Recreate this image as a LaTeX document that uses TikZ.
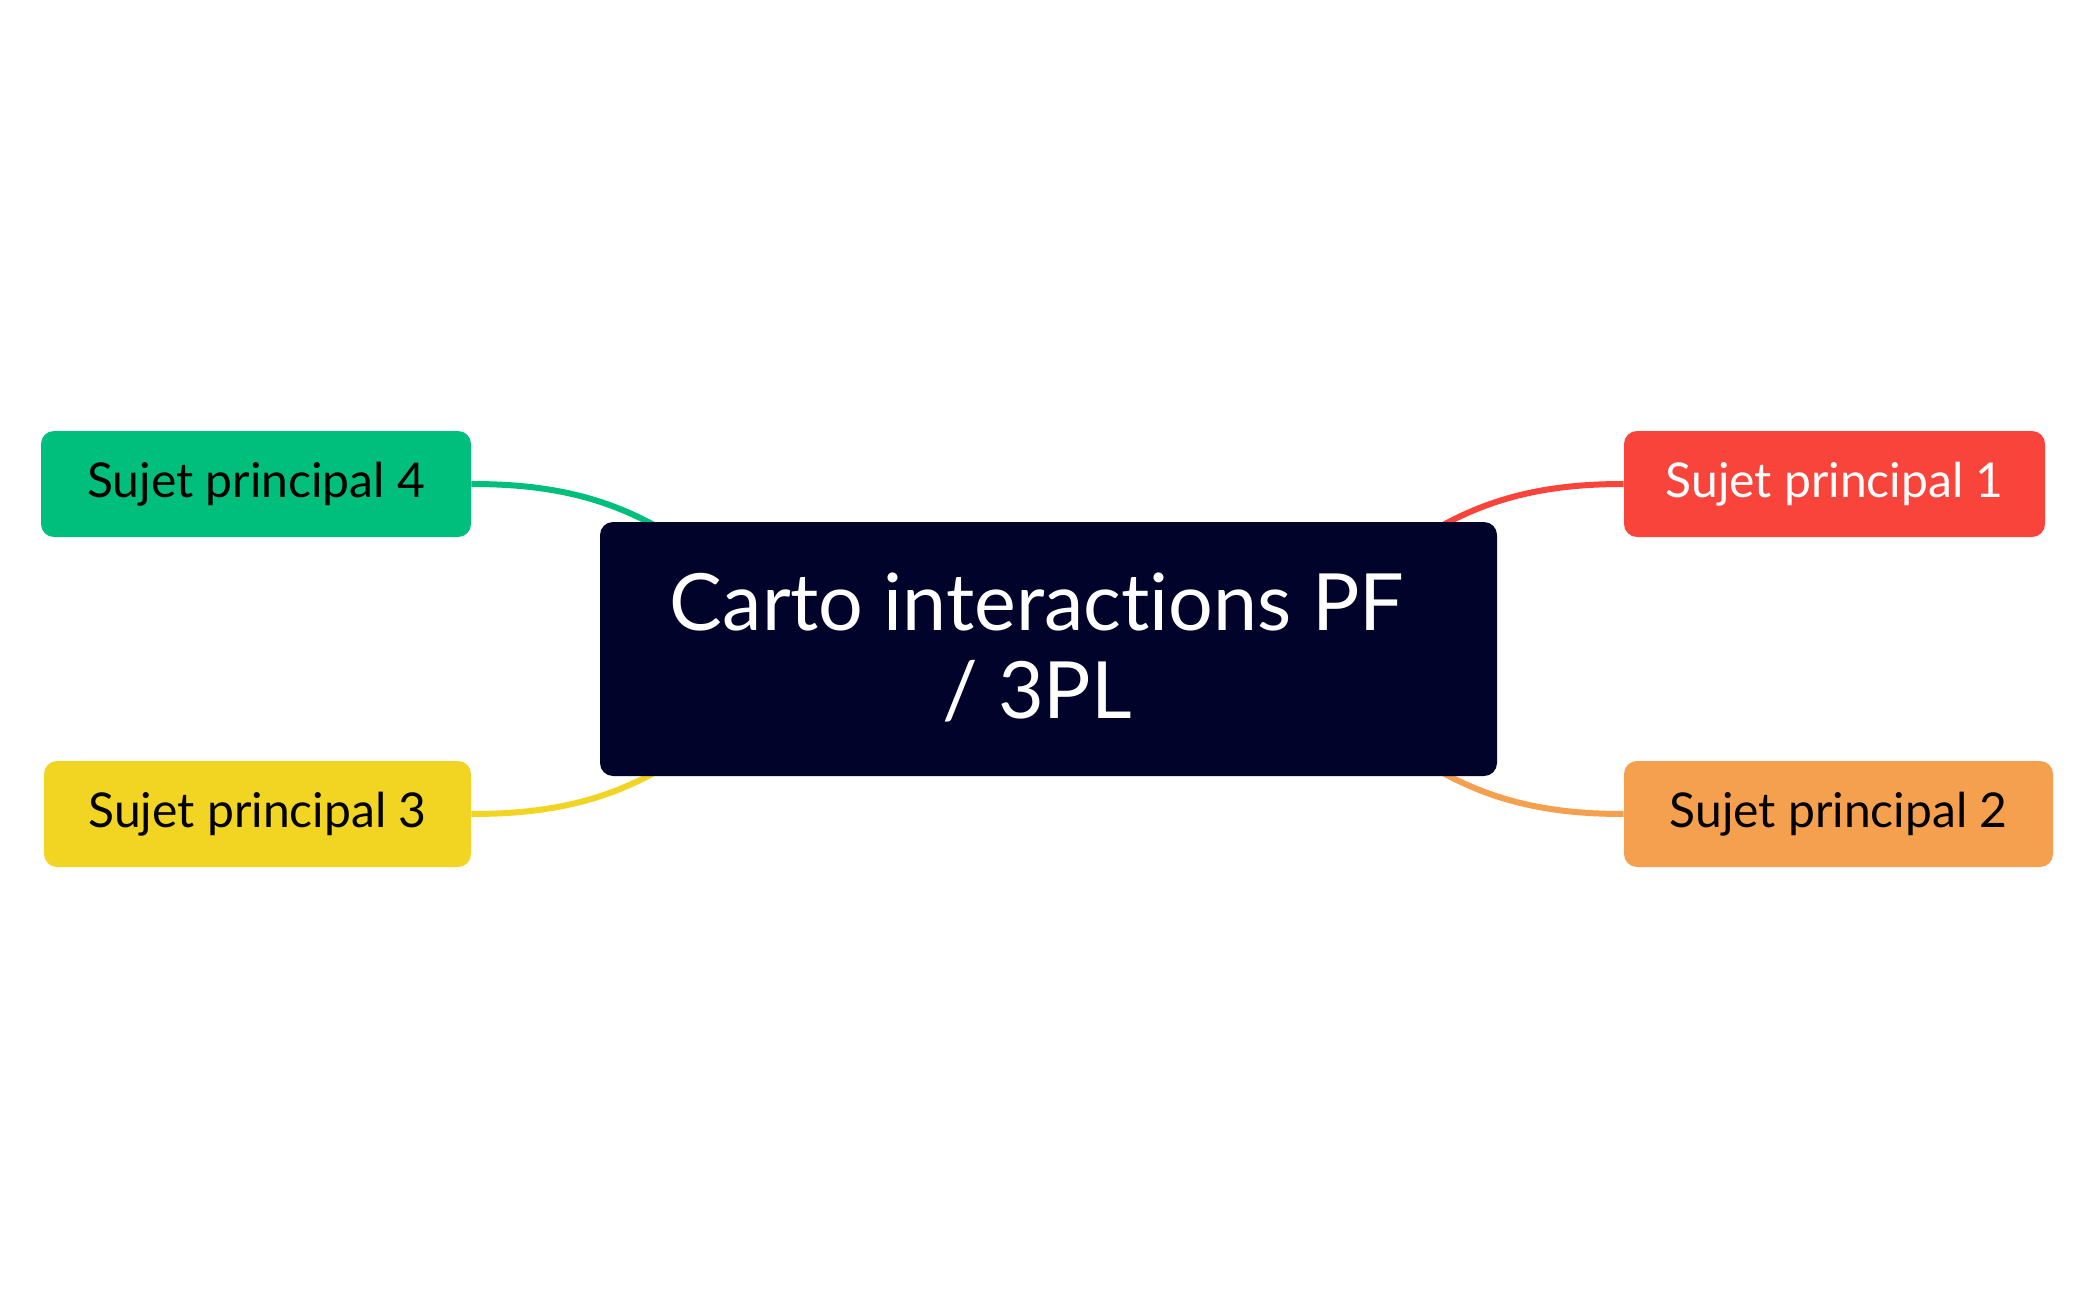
\documentclass[tikz,border=0pt]{standalone}
\usepackage{fontspec}
\setmainfont[Ligatures={NoCommon,NoRare}]{Lato}
\definecolor{cgreen}{HTML}{00BE7C}
\definecolor{cyellow}{HTML}{F2D422}
\definecolor{cred}{HTML}{F9443C}
\definecolor{corange}{HTML}{F4A04E}
\definecolor{cnavy}{HTML}{02032A}
\begin{document}
\begin{tikzpicture}[x=0.5pt,y=-0.5pt,
  topic/.style={rounded corners=6.5pt, minimum height=53pt, inner sep=0pt,
    font=\fontsize{24}{30}\selectfont},
  central/.style={fill=cnavy, rounded corners=6.5pt, minimum width=448.5pt,
    minimum height=127pt, inner sep=0pt},
  title/.style={align=center, text=white, inner sep=0pt,
    font=\fontsize{39.5}{44}\selectfont},
  link/.style={line width=3pt}]
\useasboundingbox (0,0) rectangle (2094,1300);
\fill[white] (0,0) rectangle (2094,1300);
\node[topic, fill=cgreen, text=black, minimum width=215pt] (t4) at (256,484) {Sujet principal 4};
\node[topic, fill=cyellow, text=black, minimum width=213.5pt] (t3) at (257.5,814) {Sujet principal 3};
\node[topic, fill=cred, text=white, minimum width=210.5pt] (t1) at (1834.5,484) {Sujet principal 1};
\node[topic, fill=corange, text=black, minimum width=214.5pt] (t2) at (1838.5,814) {Sujet principal 2};
\coordinate (e4) at (720,570);
\coordinate (e3) at (720,728);
\coordinate (e1) at (1377,570);
\coordinate (e2) at (1377,728);
\draw[link, cgreen] (t4.east) .. controls (570,484) and (640,505) .. (e4);
\draw[link, cyellow] (t3.east) .. controls (570,814) and (640,793) .. (e3);
\draw[link, cred] (t1.west) .. controls (1527,484) and (1457,505) .. (e1);
\draw[link, corange] (t2.west) .. controls (1527,814) and (1457,793) .. (e2);
\node[central] (c) at (1048.5,649) {};
\node[title] (ctext) at (1037,647) {Carto interactions PF\\/ 3PL};
\end{tikzpicture}
\end{document}
